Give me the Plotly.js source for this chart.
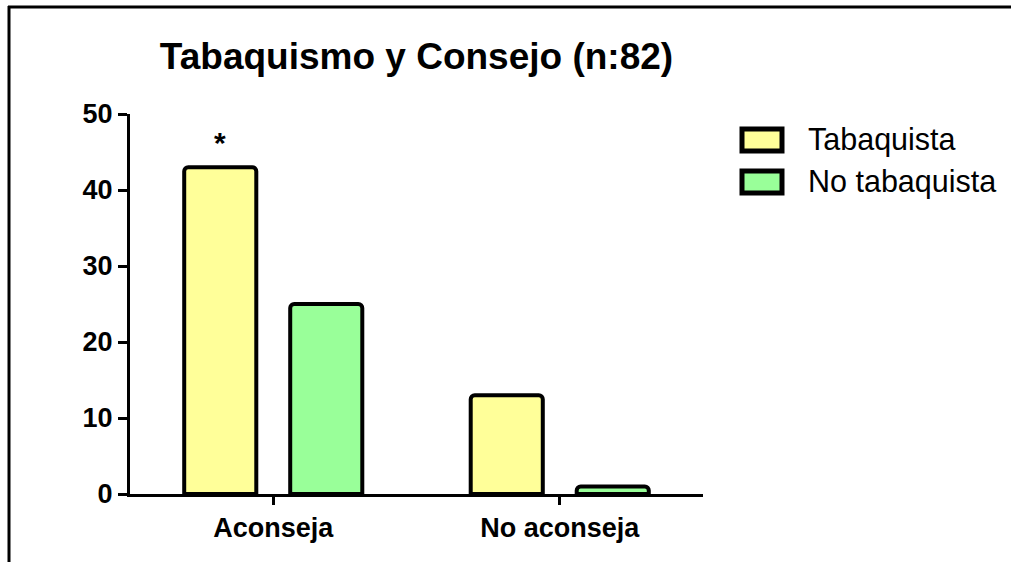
<!DOCTYPE html>
<html>
<head>
<meta charset="utf-8">
<script src="https://cdn.plot.ly/plotly-3.0.1.min.js"></script>
<style>
html,body{margin:0;padding:0;background:#fff;}
#chart{width:1011px;height:562px;}
</style>
</head>
<body>
<div id="chart"></div>
<script>
// ---- data ----
const categories = ["Aconseja", "No aconseja"];
const seriesNames = ["Tabaquista", "No tabaquista"];
const tabaquista = [43, 13];
const noTabaquista = [25, 1];
const yTicks = [0, 10, 20, 30, 40, 50];
const titleText = "Tabaquismo y Consejo (n:82)";
const starLabel = "*";

// ---- style ----
const W = 1011, H = 562;
const M = {l: 130, r: 308, t: 114, b: 68};
const PW = W - M.l - M.r, PH = H - M.t - M.b;
const colors = ["#FFFF99", "#99FF99"];
const FONT = "Liberation Sans, Arial, sans-serif";
const bargap = 0.26, bargroupgap = 0.32;

const px = x => (x - M.l) / PW;
const py = y => 1 - (y - M.t) / PH;

const traces = [tabaquista, noTabaquista].map((vals, i) => ({
  type: "bar",
  name: seriesNames[i],
  x: categories,
  y: vals,
  marker: {color: colors[i], line: {color: "#000", width: 4}, cornerradius: 4},
  showlegend: false,
  hoverinfo: "x+y+name"
}));

const shapes = [
  // outer frame (top + left)
  {type: "line", xref: "paper", yref: "paper", x0: px(8), x1: px(1011), y0: py(7), y1: py(7), line: {color: "#000", width: 3}},
  {type: "line", xref: "paper", yref: "paper", x0: px(9), x1: px(9), y0: py(6), y1: py(562), line: {color: "#000", width: 3}}
];
const annotations = [];

// manual legend
seriesNames.forEach((name, i) => {
  const cy = 140 + i * 42;
  shapes.push({
    type: "rect", xref: "paper", yref: "paper",
    xsizemode: "pixel", ysizemode: "pixel",
    xanchor: px(762), yanchor: py(cy),
    x0: -20, x1: 20, y0: -11, y1: 11,
    fillcolor: colors[i], line: {color: "#000", width: 5}
  });
  annotations.push({
    xref: "paper", yref: "paper", x: px(806), y: py(cy - 1),
    xanchor: "left", yanchor: "middle", showarrow: false,
    text: name, font: {family: FONT, size: 30.5, color: "#000"}
  });
});

// significance star above first bar of first group
const slot = (1 - bargap) / 2;
annotations.push({
  xref: "x", yref: "y", x: 0 - slot / 2, y: tabaquista[0],
  xanchor: "center", yanchor: "bottom", yshift: 6, showarrow: false,
  text: starLabel, font: {family: FONT, size: 30, color: "#000", weight: "bold"}
});

const layout = {
  width: W, height: H,
  margin: M,
  paper_bgcolor: "#fff", plot_bgcolor: "#fff",
  font: {family: FONT, color: "#000"},
  title: {
    text: "<b>" + titleText + "</b>",
    font: {family: FONT, size: 37, color: "#000"},
    xref: "paper", x: 0.5, xanchor: "center",
    yref: "container", y: 1 - 56 / H, yanchor: "middle"
  },
  barmode: "group", bargap: bargap, bargroupgap: bargroupgap,
  showlegend: false,
  xaxis: {
    type: "category", range: [-0.5, 1.5],
    showline: true, linecolor: "#000", linewidth: 3,
    ticks: "outside", ticklen: 8, tickwidth: 3, tickcolor: "#000",
    showgrid: false, zeroline: false,
    tickfont: {family: FONT, size: 27, color: "#000", weight: "bold"}
  },
  yaxis: {
    range: [0, 50], tickvals: yTicks, ticktext: yTicks.map(String),
    showline: true, linecolor: "#000", linewidth: 3,
    ticks: "outside", ticklen: 9, tickwidth: 3, tickcolor: "#000",
    showgrid: false, zeroline: false,
    tickfont: {family: FONT, size: 27, color: "#000", weight: "bold"}
  },
  shapes: shapes,
  annotations: annotations
};

Plotly.newPlot("chart", traces, layout, {displayModeBar: false, staticPlot: true});
</script>
</body>
</html>
